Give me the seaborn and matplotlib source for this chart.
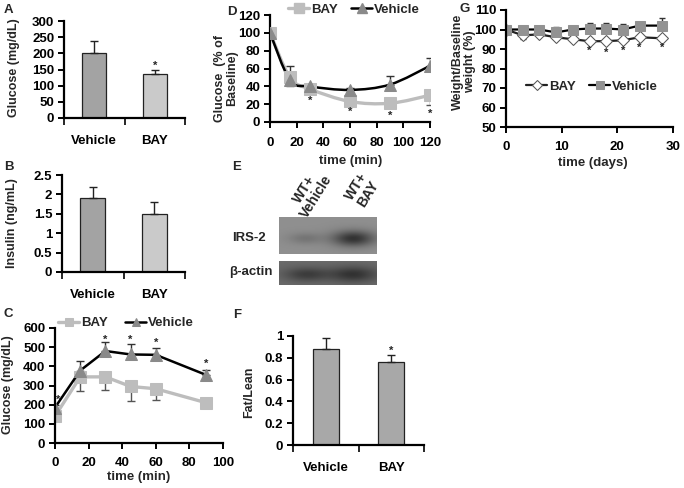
import numpy as np
import pandas as pd
import matplotlib
matplotlib.use("Agg")
import matplotlib.pyplot as plt
from matplotlib.path import Path
from matplotlib.patches import PathPatch
from matplotlib.lines import Line2D
import seaborn as sns

# ---------------- data ----------------
groups = ["Vehicle", "BAY"]
a_glucose = [200, 137]
a_err = [38, 13]
b_insulin = [1.9, 1.5]
b_err = [0.3, 0.3]
f_fatlean = [0.88, 0.76]
f_err = [0.10, 0.07]

c_time = [0, 15, 30, 45, 60, 90]
c_bay = [140, 345, 345, 295, 283, 210]
c_bay_err = [20, 75, 67, 77, 58, 10]
c_veh = [185, 378, 480, 462, 460, 355]
c_veh_err = [15, 52, 45, 53, 38, 28]
c_star_t = [2, 30, 45, 60, 90]
c_star_y = [225, 540, 540, 525, 415]

d_time = [0, 15, 30, 60, 90, 120]
d_bay = [100, 50, 37, 23, 21, 30]
d_bay_err = [0, 10, 3, 4, 5, 11]
d_veh = [100, 47, 40, 36, 42, 63]
d_veh_err = [0, 16, 3, 2, 10, 9]
d_star_t = [30, 60, 90, 120]
d_star_y = [24, 11, 7, 9]

g_time = [0, 3, 6, 9, 12, 15, 18, 21, 24, 28]
g_bay = [100, 97, 97.5, 96, 95, 94, 94, 94.5, 96, 95.5]
g_bay_err = [0, 2, 1, 1, 1, 1, 1, 1, 1, 1]
g_veh = [100, 100, 100, 98.5, 100, 100.5, 100.5, 100, 102, 102]
g_veh_err = [0, 1, 2, 3, 1, 3, 3, 3, 2, 4]
g_star_t = [15, 18, 21, 24, 28]
g_star_y = [89, 88, 89, 90.5, 90.5]

# ---------------- style ----------------
sns.set_theme(style="ticks")
plt.rcParams["font.family"] = ["Liberation Sans", "DejaVu Sans"]
plt.rcParams["font.weight"] = "bold"
plt.rcParams["axes.labelweight"] = "bold"

W, H = 684, 488
fig = plt.figure(figsize=(W / 100, H / 100), dpi=100)


def px_ax(l, t, r, b):
    return fig.add_axes([l / W, 1 - b / H, (r - l) / W, (b - t) / H])


def fx(x):
    return x / W


def fy(y):
    return 1 - y / H


def style(ax, xpad=8):
    sns.despine(ax=ax)
    for s in ["left", "bottom"]:
        ax.spines[s].set_linewidth(1.6)
        ax.spines[s].set_color("black")
    ax.tick_params(axis="y", width=1.4, length=4, labelsize=9.5, pad=3, colors="black")
    ax.tick_params(axis="x", width=1.4, length=4, labelsize=9.5, pad=xpad, colors="black")
    ax.grid(False)
    ax.set_facecolor("white")


def set_ylabel(ax, text, x, y, size=9, ls=1.0):
    ax.set_ylabel(text, fontsize=size, fontweight="bold", linespacing=ls)
    ax.yaxis.set_label_coords(fx(x), fy(y), transform=fig.transFigure)
    ax.yaxis.label.set_va("center")
    ax.yaxis.label.set_ha("center")


def set_xlabel(ax, text, x, y, size=9.5):
    ax.set_xlabel(text, fontsize=size, fontweight="bold")
    ax.xaxis.set_label_coords(fx(x), fy(y), transform=fig.transFigure)
    ax.xaxis.label.set_va("center")


def bar_panel(ax, vals, errs, colors, ylim, yticks, star=None):
    df = pd.DataFrame({"group": groups, "value": vals})
    sns.barplot(data=df, x="group", y="value", hue="group", palette=colors,
                width=0.4, edgecolor="#222222", linewidth=0.9, legend=False,
                ax=ax, saturation=1)
    ax.errorbar([0, 1], vals, yerr=[[0, 0], errs], fmt="none", ecolor="#222222",
                elinewidth=1.0, capsize=3, capthick=1.0)
    style(ax)
    ax.set_xlim(-0.5, 1.5)
    ax.set_ylim(*ylim)
    ax.set_yticks(yticks)
    ax.set_yticklabels([f"{t:g}" for t in yticks])
    ax.set_xticks([0, 1])
    ax.set_xticklabels(groups)
    ax.tick_params(axis="x", length=0, pad=12, labelsize=9.5)
    ax.set_xticks([-0.5, 0.5, 1.5], minor=True)
    ax.tick_params(axis="x", which="minor", length=5, width=1.4, direction="out")
    ax.set_xlabel("")
    if star is not None:
        ax.text(1, star, "*", ha="center", va="center", fontsize=8, fontweight="bold")


def smooth_line(ax, xs, ys, color, lw, zorder=2):
    """Excel-style smoothed line: Bezier segments through the data points."""
    P = np.column_stack([xs, ys]).astype(float)
    n = len(P)
    verts = [P[0]]
    codes = [Path.MOVETO]
    for i in range(n - 1):
        p0 = P[i - 1] if i > 0 else P[i]
        p1, p2 = P[i], P[i + 1]
        p3 = P[i + 2] if i + 2 < n else P[i + 1]
        c1 = p1 + (p2 - p0) / 6.0
        c2 = p2 - (p3 - p1) / 6.0
        verts += [c1, c2, p2]
        codes += [Path.CURVE4] * 3
    ax.add_patch(PathPatch(Path(verts, codes), facecolor="none", edgecolor=color,
                           linewidth=lw, zorder=zorder, capstyle="round"))


LEG = dict(ncol=2, frameon=False, fontsize=9.5, handlelength=1.6,
           handletextpad=0.15, borderpad=0, borderaxespad=0, markerscale=0.75)

bay_col = "#bdbdbd"
veh_mark = "#8a8a8a"

# ---------------- A ----------------
axA = px_ax(64, 21, 185, 118)
bar_panel(axA, a_glucose, a_err, ["#a3a3a3", "#cacaca"], (0, 300),
          [0, 50, 100, 150, 200, 250, 300], star=160)
set_ylabel(axA, "Glucose (mg/dL)", 14, 68)

# ---------------- B ----------------
axB = px_ax(62, 175, 185, 272)
bar_panel(axB, b_insulin, b_err, ["#a3a3a3", "#cacaca"], (0, 2.5),
          [0, 0.5, 1, 1.5, 2, 2.5])
set_ylabel(axB, "Insulin (ng/mL)", 12, 223)

# ---------------- F ----------------
axF = px_ax(293, 336, 424, 445)
bar_panel(axF, f_fatlean, f_err, ["#a8a8a8", "#a8a8a8"], (0, 1),
          [0, 0.2, 0.4, 0.6, 0.8, 1], star=0.86)
set_ylabel(axF, "Fat/Lean", 249, 392)

# ---------------- C ----------------
axC = px_ax(55, 328, 223, 443)
sns.lineplot(x=c_time, y=c_bay, ax=axC, color=bay_col, marker="s", markersize=8,
             markeredgecolor=bay_col, linewidth=2.4, label="BAY")
sns.lineplot(x=c_time, y=c_veh, ax=axC, color="black", marker="^", markersize=8,
             markerfacecolor=veh_mark, markeredgecolor=veh_mark, linewidth=1.8,
             label="Vehicle")
axC.errorbar(c_time, c_bay, yerr=[c_bay_err, [0] * len(c_bay_err)], fmt="none",
             ecolor="#555555", elinewidth=1.0, capsize=3, capthick=1.0, zorder=1)
axC.errorbar(c_time, c_veh, yerr=[[0] * len(c_veh_err), c_veh_err], fmt="none",
             ecolor="#333333", elinewidth=1.0, capsize=3, capthick=1.0, zorder=1)
for t, y in zip(c_star_t, c_star_y):
    axC.text(t, y, "*", ha="center", va="center", fontsize=8, fontweight="bold")
style(axC, xpad=6)
axC.set_xlim(0, 100)
axC.set_ylim(0, 600)
axC.set_xticks([0, 20, 40, 60, 80, 100])
axC.set_yticks([0, 100, 200, 300, 400, 500, 600])
axC.legend(loc="center left", bbox_to_anchor=(fx(58), fy(323)),
           bbox_transform=fig.transFigure, columnspacing=1.3, **LEG)
set_ylabel(axC, "Glucose (mg/dL)", 8, 385)
set_xlabel(axC, "time (min)", 139, 477)

# ---------------- D ----------------
axD = px_ax(270, 15, 430, 122)
sns.lineplot(x=d_time, y=d_bay, ax=axD, color=bay_col, marker="s", markersize=9,
             markeredgecolor=bay_col, linestyle="none", zorder=3)
sns.lineplot(x=d_time, y=d_veh, ax=axD, color=veh_mark, marker="^", markersize=9,
             markerfacecolor=veh_mark, markeredgecolor=veh_mark, linestyle="none",
             zorder=3)
smooth_line(axD, d_time, d_bay, bay_col, 2.4)
smooth_line(axD, d_time, d_veh, "black", 1.8)
axD.errorbar(d_time, d_bay, yerr=[d_bay_err, [0] * len(d_bay_err)], fmt="none",
             ecolor="#555555", elinewidth=1.0, capsize=3, capthick=1.0, zorder=1)
axD.errorbar(d_time, d_veh, yerr=[[0] * len(d_veh_err), d_veh_err], fmt="none",
             ecolor="#333333", elinewidth=1.0, capsize=3, capthick=1.0, zorder=1)
for t, y in zip(d_star_t, d_star_y):
    axD.text(t, y, "*", ha="center", va="center", fontsize=8, fontweight="bold")
style(axD, xpad=7)
axD.set_xlim(0, 120)
axD.set_ylim(0, 120)
axD.set_xticks([0, 20, 40, 60, 80, 100, 120])
axD.set_yticks([0, 20, 40, 60, 80, 100, 120])
d_handles = [
    Line2D([], [], color=bay_col, lw=2.4, marker="s", markersize=9,
           markerfacecolor=bay_col, markeredgecolor=bay_col),
    Line2D([], [], color="black", lw=1.8, marker="^", markersize=9,
           markerfacecolor=veh_mark, markeredgecolor=veh_mark),
]
axD.legend(d_handles, ["BAY", "Vehicle"], loc="center left",
           bbox_to_anchor=(fx(288), fy(10)), bbox_transform=fig.transFigure,
           columnspacing=1.0, **LEG)
set_ylabel(axD, "Glucose  (% of\nBaseline)", 226, 78)
set_xlabel(axD, "time (min)", 351, 161)

# ---------------- G ----------------
axG = px_ax(506, 10, 673, 127)
sns.lineplot(x=g_time, y=g_bay, ax=axG, color="#222222", marker="D", markersize=6.5,
             markerfacecolor="white", markeredgecolor="#555555", linewidth=1.6,
             label="BAY")
sns.lineplot(x=g_time, y=g_veh, ax=axG, color="black", marker="s", markersize=7,
             markerfacecolor="#929292", markeredgecolor="#929292", linewidth=1.6,
             label="Vehicle")
axG.errorbar(g_time, g_bay, yerr=[g_bay_err, [0] * len(g_bay_err)], fmt="none",
             ecolor="#333333", elinewidth=1.0, capsize=2.5, capthick=1.0, zorder=1)
axG.errorbar(g_time, g_veh, yerr=[[0] * len(g_veh_err), g_veh_err], fmt="none",
             ecolor="#333333", elinewidth=1.0, capsize=2.5, capthick=1.0, zorder=1)
for t, y in zip(g_star_t, g_star_y):
    axG.text(t, y, "*", ha="center", va="center", fontsize=8, fontweight="bold")
style(axG, xpad=6)
axG.set_xlim(0, 30)
axG.set_ylim(50, 110)
axG.set_xticks([0, 10, 20, 30])
axG.set_yticks([50, 60, 70, 80, 90, 100, 110])
axG.legend(loc="center left", bbox_to_anchor=(fx(526), fy(87)),
           bbox_transform=fig.transFigure, columnspacing=1.0, **LEG)
set_ylabel(axG, "Weight/Baseline\nweight (%)", 464, 62, size=9, ls=0.9)
set_xlabel(axG, "time (days)", 593, 163)

# ---------------- E (blot image) ----------------
def blot(h, w, bg, bands):
    yy, xx = np.mgrid[0:h, 0:w]
    img = np.full((h, w), bg, dtype=float)
    for cx, cy, sx, sy, amp in bands:
        img -= amp * np.exp(-(((xx - cx) / sx) ** 2 + ((yy - cy) / sy) ** 2) / 2)
    return img

axE1 = px_ax(279, 217, 377, 254)
axE1.imshow(blot(37, 98, 0.56, [(26, 21, 12, 4, 0.10), (74, 21, 15, 5.5, 0.36)]),
            cmap="gray", vmin=0, vmax=1, aspect="auto", interpolation="bilinear")
axE1.set_axis_off()
axE2 = px_ax(279, 261, 377, 285)
axE2.imshow(blot(24, 98, 0.42, [(27, 13, 16, 5, 0.18), (74, 13, 17, 5.5, 0.22)]),
            cmap="gray", vmin=0, vmax=1, aspect="auto", interpolation="bilinear")
axE2.set_axis_off()
fig.text(fx(232), fy(238), "IRS-2", ha="left", va="center", fontsize=9.5, fontweight="bold")
fig.text(fx(229), fy(272), "β-actin", ha="left", va="center", fontsize=9.5, fontweight="bold")
fig.text(fx(310), fy(193), "WT+\nVehicle", ha="center", va="center", fontsize=10,
         fontweight="bold", rotation=58, linespacing=0.95)
fig.text(fx(362), fy(190), "WT+\nBAY", ha="center", va="center", fontsize=10,
         fontweight="bold", rotation=58, linespacing=0.95)

# ---------------- panel letters ----------------
for letter, x, y in [("A", 4, 10), ("B", 4, 167), ("C", 4, 314), ("D", 227, 12),
                     ("E", 232, 167), ("F", 233, 315), ("G", 460, 9)]:
    fig.text(fx(x), fy(y), letter, ha="left", va="center", fontsize=9.5, fontweight="bold")

fig.savefig("out.png", dpi=100, facecolor="white")
